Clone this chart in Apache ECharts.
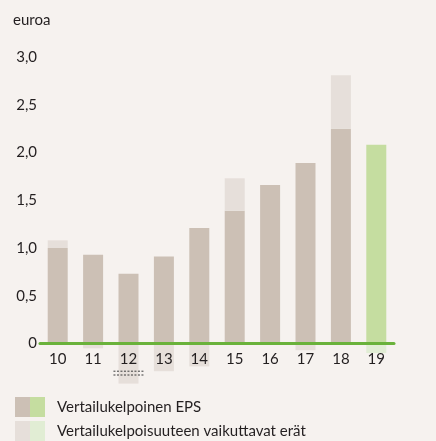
<!DOCTYPE html>
<html>
<head>
<meta charset="utf-8">
<script src="https://cdn.jsdelivr.net/npm/echarts@6/dist/echarts.min.js"></script>
<style>
  html, body { margin: 0; padding: 0; background: #f6f2ef; }
  #chart { width: 436px; height: 441px; }
</style>
</head>
<body>
<div id="chart"></div>
<script>
// Vuodet (20xx)
const years = ['10', '11', '12', '13', '14', '15', '16', '17', '18', '19'];
// Vertailukelpoinen EPS, euroa
const comparableEps = [1.00, 0.93, 0.73, 0.91, 1.21, 1.39, 1.66, 1.89, 2.25, 2.08];
// Vertailukelpoisuuteen vaikuttavat erät, euroa
const adjustingItems = [0.08, -0.05, -0.42, -0.29, -0.24, 0.34, null, -0.07, 0.56, -0.10];
// Katkoviivat vuoden 12 kohdalla
const dashMarks = [['12', -0.29], ['12', -0.33]];
// Viimeisin vuosi korostetaan vihreällä
const highlightYear = '19';
const yTicks = [0, 0.5, 1.0, 1.5, 2.0, 2.5, 3.0];

const BROWN = '#ccc0b5';
const BROWN_LIGHT = '#e6dfda';
const GREEN = '#c5dda0';
const GREEN_LIGHT = '#e1edd4';
const TEXT = '#231f20';
const FONT = 'Lato, "Open Sans", sans-serif';

function split(c1, c2) {
  return {
    type: 'linear', x: 0, y: 0, x2: 1, y2: 0,
    colorStops: [
      { offset: 0, color: c1 }, { offset: 0.5, color: c1 },
      { offset: 0.5, color: c2 }, { offset: 1, color: c2 }
    ]
  };
}

const chart = echarts.init(document.getElementById('chart'));
chart.setOption({
  backgroundColor: '#f6f2ef',
  animation: false,
  textStyle: { fontFamily: FONT, color: TEXT },
  title: {
    text: 'euroa', left: 13, top: 13, padding: 0,
    textStyle: { fontFamily: FONT, fontSize: 15, fontWeight: 'normal', color: TEXT }
  },
  grid: { left: 40, right: 42, top: 57, bottom: 97.5, containLabel: false },
  legend: {
    orient: 'vertical', left: 15, top: 397, padding: 0,
    itemWidth: 30, itemHeight: 20, itemGap: 4,
    icon: 'rect',
    textStyle: { fontFamily: FONT, fontSize: 15, color: TEXT, padding: [0, 0, 0, 7] },
    selectedMode: false,
    data: [
      { name: 'Vertailukelpoinen EPS', itemStyle: { color: split(BROWN, GREEN) } },
      { name: 'Vertailukelpoisuuteen vaikuttavat erät', itemStyle: { color: split(BROWN_LIGHT, GREEN_LIGHT) } }
    ]
  },
  xAxis: {
    type: 'category', data: years, z: 10,
    axisLine: { show: true, lineStyle: { color: '#6ab23b', width: 3 } },
    axisTick: { show: false },
    axisLabel: { fontFamily: FONT, fontSize: 15, color: TEXT, margin: 8 }
  },
  yAxis: {
    type: 'value', min: 0, max: 3, interval: 0.5,
    axisLine: { show: false }, axisTick: { show: false },
    splitLine: { show: false },
    axisLabel: {
      fontFamily: FONT, fontSize: 15, color: TEXT, margin: 3,
      formatter: v => yTicks.includes(v) ? (v === 0 ? '0' : v.toFixed(1).replace('.', ',')) : ''
    }
  },
  series: [
    {
      name: 'Vertailukelpoinen EPS', type: 'bar', stack: 'eps', barWidth: 20, clip: false,
      data: comparableEps,
      itemStyle: { color: p => years[p.dataIndex] === highlightYear ? GREEN : BROWN }
    },
    {
      name: 'Vertailukelpoisuuteen vaikuttavat erät', type: 'bar', stack: 'eps', barWidth: 20, clip: false,
      data: adjustingItems,
      itemStyle: { color: p => years[p.dataIndex] === highlightYear ? GREEN_LIGHT : BROWN_LIGHT }
    },
    {
      type: 'custom', z: 5, clip: false, silent: true,
      data: dashMarks,
      renderItem: (params, api) => {
        const pt = api.coord([api.value(0), api.value(1)]);
        const w = api.size([1, 0])[0] * 0.85;
        return {
          type: 'line',
          shape: { x1: pt[0] - w / 2, y1: pt[1], x2: pt[0] + w / 2, y2: pt[1] },
          style: { stroke: '#3a3a3a', lineWidth: 1, lineDash: [2, 1.5] }
        };
      }
    }
  ]
});
</script>
</body>
</html>
